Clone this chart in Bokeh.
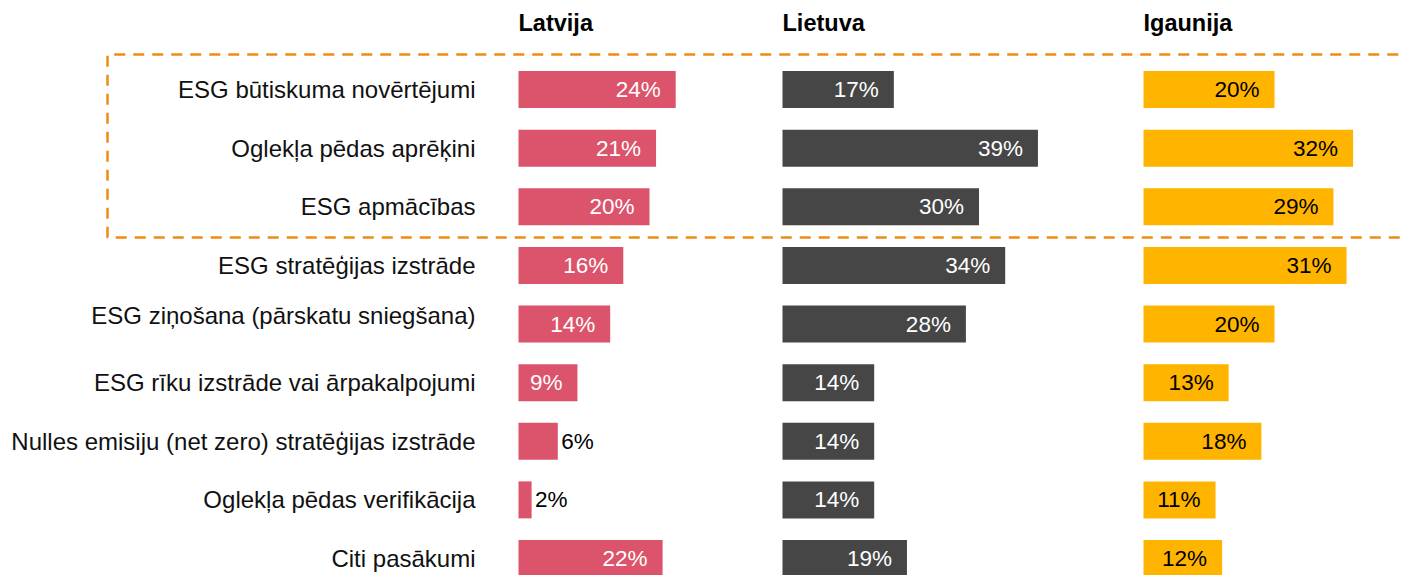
from bokeh.plotting import figure
from bokeh.models import ColumnDataSource, Range1d
from bokeh.core.properties import value
from bokeh.embed import file_html
from bokeh.resources import INLINE

# ---------------- data ----------------
categories = [
    "ESG būtiskuma novērtējumi",
    "Oglekļa pēdas aprēķini",
    "ESG apmācības",
    "ESG stratēģijas izstrāde",
    "ESG ziņošana (pārskatu sniegšana)",
    "ESG rīku izstrāde vai ārpakalpojumi",
    "Nulles emisiju (net zero) stratēģijas izstrāde",
    "Oglekļa pēdas verifikācija",
    "Citi pasākumi",
]
countries = ["Latvija", "Lietuva", "Igaunija"]
latvija = [24, 21, 20, 16, 14, 9, 6, 2, 22]
lietuva = [17, 39, 30, 34, 28, 14, 14, 14, 19]
igaunija = [20, 32, 29, 31, 20, 13, 18, 11, 12]
series = [latvija, lietuva, igaunija]

# ---------------- style / layout ----------------
colors = ["#DC546B", "#464646", "#FFB400"]
inside_text_colors = ["white", "white", "black"]
FONT = "Liberation Sans"
W, H = 1403, 575
PX_PER_UNIT = 6.55                       # pixels per percentage point
ORIGIN_PX = 518                          # left edge of first panel
panel_px = [518, 782, 1143]              # left edges of the panels
offsets = [(px - ORIGIN_PX) / PX_PER_UNIT for px in panel_px]
ROW0_PX, ROW_STEP_PX = 89, 58.625

x_start = -ORIGIN_PX / PX_PER_UNIT
x_end = x_start + W / PX_PER_UNIT
y_top = -ROW0_PX / ROW_STEP_PX
y_bottom = (H - ROW0_PX) / ROW_STEP_PX

p = figure(width=W, height=H, output_backend="svg", toolbar_location=None,
           x_range=Range1d(x_start, x_end), y_range=Range1d(y_bottom, y_top),
           min_border=0)
p.axis.visible = False
p.grid.visible = False
p.outline_line_color = None
p.background_fill_color = "white"
p.border_fill_color = "white"

rows = list(range(len(categories)))
bar_h = 37 / ROW_STEP_PX
pad_in = 15 / PX_PER_UNIT
pad_out = 3.5 / PX_PER_UNIT
threshold = 8

for k, (vals, off) in enumerate(zip(series, offsets)):
    src = ColumnDataSource(dict(y=rows, left=[off] * len(vals),
                                right=[off + v for v in vals]))
    p.hbar(y="y", left="left", right="right", height=bar_h, source=src,
           fill_color=colors[k], line_color=None)
    lx, ly, lt, la, lc = [], [], [], [], []
    for i, v in enumerate(vals):
        if v >= threshold:
            lx.append(off + v - pad_in); la.append("right"); lc.append(inside_text_colors[k])
        else:
            lx.append(off + v + pad_out); la.append("left"); lc.append("black")
        ly.append(i); lt.append(f"{v}%")
    lsrc = ColumnDataSource(dict(x=lx, y=ly, t=lt, a=la, c=lc))
    p.text(x="x", y="y", text="t", text_align="a", text_color="c",
           text_baseline="middle", text_font=value(FONT),
           text_font_size="22.5px", source=lsrc)

# header labels
hdr_y = (22 - ROW0_PX) / ROW_STEP_PX
p.text(x=offsets, y=[hdr_y] * 3, text=countries, text_align="left",
       text_baseline="middle", text_font=value(FONT), text_font_size="23.5px",
       text_font_style="bold", text_color="black")

# category labels
cat_x = (475 - ORIGIN_PX) / PX_PER_UNIT
cat_y = [r for r in rows]
cat_y[4] = 4 - 9 / ROW_STEP_PX
p.text(x=[cat_x] * len(categories), y=cat_y, text=categories,
       text_align="right", text_baseline="middle", text_font=value(FONT),
       text_font_size="24px", text_color="#111111")

# dashed highlight box around the first three rows
box_left = (107 - ORIGIN_PX) / PX_PER_UNIT
box_top = (54 - ROW0_PX) / ROW_STEP_PX
box_bottom = (237 - ROW0_PX) / ROW_STEP_PX
box_right = x_end + 5
p.line(x=[box_right, box_left, box_left, box_right],
       y=[box_top, box_top, box_bottom, box_bottom],
       line_color="#EE8C12", line_width=2.5, line_dash="11 8")

open("out.html", "w").write(file_html(p, INLINE))
